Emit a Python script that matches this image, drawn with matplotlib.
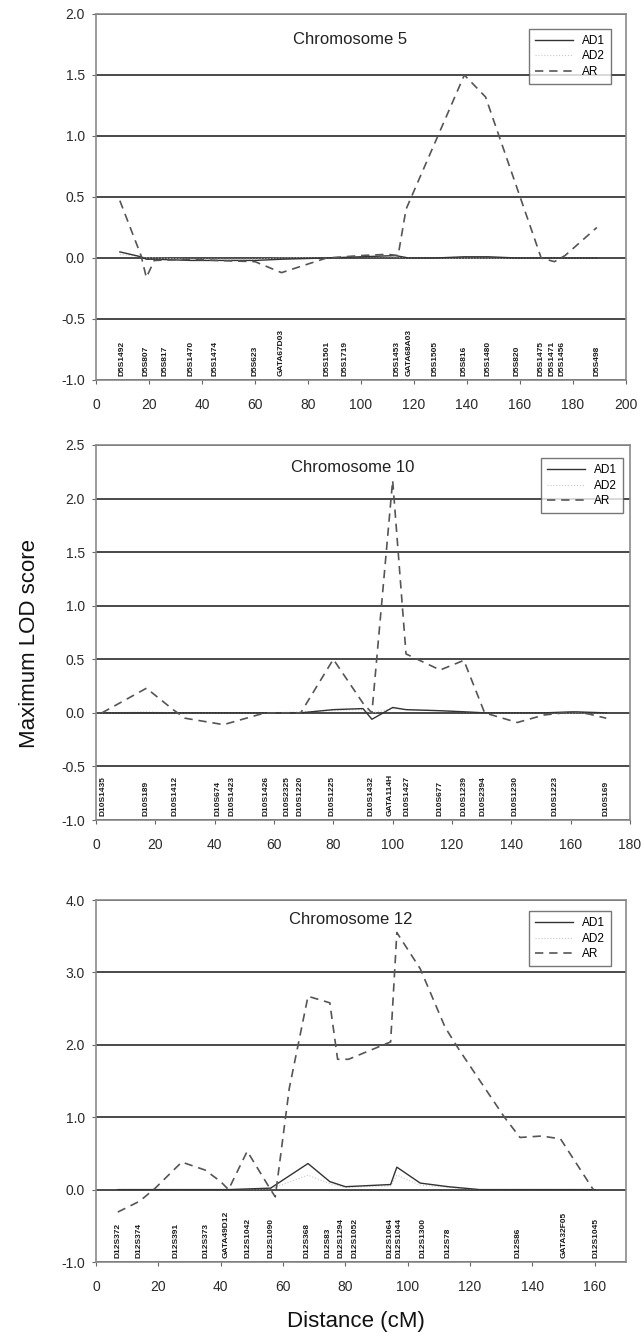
import numpy as np
import matplotlib
matplotlib.use('Agg')
import matplotlib.pyplot as plt
from matplotlib.lines import Line2D

plt.rcParams['font.family'] = ['Liberation Sans', 'DejaVu Sans']

# %%
# Chromosome 5
chr5_ad1_x = [9, 17, 19, 22, 36, 45, 60, 70, 87, 100, 113, 118, 128, 139, 148, 159, 168, 176, 189]
chr5_ad1_y = [0.05, 0.01, -0.01, -0.01, -0.02, -0.02, -0.02, -0.01, 0.0, 0.01, 0.02, 0.0, 0.0, 0.01, 0.01, 0.0, 0.0, 0.0, 0.0]
chr5_ad2_y = [0.03, 0.01, 0.0, 0.0, -0.01, -0.01, -0.01, 0.0, 0.0, 0.01, 0.01, 0.0, 0.0, 0.0, 0.0, 0.0, 0.0, 0.0, 0.0]
chr5_ar_x = [9, 17, 19, 22, 36, 45, 60, 70, 87, 100, 110, 114, 117, 139, 147, 168, 173, 177, 189]
chr5_ar_y = [0.47, 0.02, -0.16, -0.02, -0.01, -0.02, -0.03, -0.12, 0.0, 0.02, 0.03, 0.02, 0.4, 1.5, 1.32, 0.0, -0.03, 0.02, 0.25]
chr5_mk_x = [10, 19, 26, 36, 45, 60, 70, 87, 94, 113.5, 118, 128, 139, 148, 159, 168, 172, 176, 189]
chr5_mk = ['D5S1492', 'D5S807', 'D5S817', 'D5S1470', 'D5S1474', 'D5S623', 'GATA67D03',
           'D5S1501', 'D5S1719', 'D5S1453', 'GATA68A03', 'D5S1505', 'D5S816', 'D5S1480',
           'D5S820', 'D5S1475', 'D5S1471', 'D5S1456', 'D5S498']

# Chromosome 10
chr10_ad1_x = [2, 17, 26, 43, 57, 69, 80, 90, 93, 100, 104.5, 116, 124, 131, 142, 151, 161, 172]
chr10_ad1_y = [0.0, 0.0, 0.0, 0.0, 0.0, 0.0, 0.03, 0.04, -0.06, 0.05, 0.03, 0.02, 0.01, 0.0, 0.0, 0.0, 0.01, 0.0]
chr10_ad2_y = [0.0, 0.01, 0.0, 0.0, 0.0, 0.01, 0.02, 0.03, 0.0, 0.04, 0.03, 0.02, 0.01, 0.0, 0.0, 0.0, 0.0, 0.0]
chr10_ar_x = [2, 17, 26, 30, 43, 57, 69, 80, 90, 93, 100, 104.5, 116, 124, 131, 142, 151, 161, 166, 172]
chr10_ar_y = [0.0, 0.23, 0.03, -0.05, -0.11, 0.0, 0.0, 0.5, 0.09, 0.0, 2.17, 0.55, 0.4, 0.49, 0.0, -0.09, -0.02, 0.01, -0.01, -0.05]
chr10_mk_x = [2.4, 16.8, 26.5, 41, 45.7, 57.2, 64.4, 68.6, 79.4, 92.7, 99.3, 104.7, 116.1, 123.9, 130.6, 141.4, 154.6, 172]
chr10_mk = ['D10S1435', 'D10S189', 'D10S1412', 'D10S674', 'D10S1423', 'D10S1426', 'D10S2325',
            'D10S1220', 'D10S1225', 'D10S1432', 'GATA114H', 'D10S1427', 'D10S677', 'D10S1239',
            'D10S2394', 'D10S1230', 'D10S1223', 'D10S169']

# Chromosome 12
chr12_ad1_x = [7, 14, 27.5, 42.5, 56, 68, 75, 80, 94.5, 96.5, 104, 113, 123, 135, 150, 160]
chr12_ad1_y = [0.0, 0.0, 0.0, 0.0, 0.02, 0.36, 0.11, 0.04, 0.07, 0.31, 0.09, 0.04, 0.0, 0.0, 0.0, 0.0]
chr12_ad2_y = [0.0, 0.0, 0.0, 0.0, 0.01, 0.2, 0.08, 0.03, 0.05, 0.2, 0.06, 0.03, 0.0, 0.0, 0.0, 0.0]
chr12_ar_x = [7, 14, 19, 27.5, 35, 40, 42.5, 48.5, 56, 57.5, 62, 68, 75, 77.5, 81, 94.5, 96.5, 104, 112, 116.5, 131, 136, 143, 149, 159.5]
chr12_ar_y = [-0.31, -0.16, 0.02, 0.38, 0.27, 0.11, 0.0, 0.53, 0.0, -0.1, 1.4, 2.67, 2.58, 1.8, 1.8, 2.04, 3.55, 3.05, 2.24, 1.93, 1.0, 0.72, 0.74, 0.7, 0.0]
chr12_mk_x = [6.9, 13.8, 25.8, 35.4, 41.7, 48.6, 56, 67.7, 74.5, 78.6, 83.1, 94.3, 97.2, 104.8, 113, 135.2, 150.2, 160.5]
chr12_mk = ['D12S372', 'D12S374', 'D12S391', 'D12S373', 'GATA49D12', 'D12S1042', 'D12S1090',
            'D12S368', 'D12S83', 'D12S1294', 'D12S1052', 'D12S1064', 'D12S1044', 'D12S1300',
            'D12S78', 'D12S86', 'GATA32F05', 'D12S1045']

# %%
W, H = 644, 1339
fig = plt.figure(figsize=(W / 100, H / 100), dpi=100)

panels = [
    dict(title='Chromosome 5', box=(96, 14, 626, 380), xlim=(0, 200), xticks=np.arange(0, 201, 20),
         ylim=(-1, 2), yticks=np.arange(-1, 2.01, 0.5), title_y=0.93, leg=(0.983, 0.975),
         ad1x=chr5_ad1_x, ad1y=chr5_ad1_y, ad2y=chr5_ad2_y, arx=chr5_ar_x, ary=chr5_ar_y,
         mkx=chr5_mk_x, mk=chr5_mk),
    dict(title='Chromosome 10', box=(96, 445, 630, 820), xlim=(0, 180), xticks=np.arange(0, 181, 20),
         ylim=(-1, 2.5), yticks=np.arange(-1, 2.51, 0.5), title_y=0.94, leg=(0.998, 0.98),
         ad1x=chr10_ad1_x, ad1y=chr10_ad1_y, ad2y=chr10_ad2_y, arx=chr10_ar_x, ary=chr10_ar_y,
         mkx=chr10_mk_x, mk=chr10_mk),
    dict(title='Chromosome 12', box=(96, 900, 626, 1262), xlim=(0, 170), xticks=np.arange(0, 161, 20),
         ylim=(-1, 4), yticks=np.arange(-1, 4.01, 1.0), title_y=0.946, leg=(0.983, 0.985),
         ad1x=chr12_ad1_x, ad1y=chr12_ad1_y, ad2y=chr12_ad2_y, arx=chr12_ar_x, ary=chr12_ar_y,
         mkx=chr12_mk_x, mk=chr12_mk),
]

for p in panels:
    x0, y0, x1, y1 = p['box']
    ax = fig.add_axes([x0 / W, 1 - y1 / H, (x1 - x0) / W, (y1 - y0) / H])
    ax.set_xlim(*p['xlim'])
    ax.set_ylim(*p['ylim'])
    ax.set_xticks(p['xticks'])
    ax.set_yticks(p['yticks'])
    ax.set_yticklabels([f'{v:.1f}' for v in p['yticks']])
    for v in p['yticks']:
        ax.axhline(v, color='#3a3a3a', lw=1.3, zorder=1)
    for s in ax.spines.values():
        s.set_color('#8a8a8a')
        s.set_linewidth(1.2)
    ax.tick_params(axis='both', direction='out', length=3, width=0.8, color='#666666',
                   labelsize=10, labelcolor='#2a2a2a')
    ax.tick_params(axis='x', pad=10)
    ax.tick_params(axis='y', pad=5)

    ax.plot(p['ad1x'], p['ad1y'], color='#333333', lw=1.0, zorder=3)
    ax.plot(p['ad1x'], p['ad2y'], color='#c8c8c8', lw=0.8, ls=':', zorder=2)
    ax.plot(p['arx'], p['ary'], color='#555555', lw=1.2, ls=(0, (5, 3.5)), zorder=4)

    # marker names along the bottom band
    for mx, name in zip(p['mkx'], p['mk']):
        ax.text(mx, p['ylim'][0] + 0.01 * (p['ylim'][1] - p['ylim'][0]), name, rotation=90,
                ha='center', va='bottom', fontsize=6, fontweight='bold', color='#1a1a1a', zorder=5)

    ax.text(0.48, p['title_y'], p['title'], transform=ax.transAxes, ha='center', va='center',
            fontsize=12, color='#222222')

    handles = [Line2D([], [], color='#333333', lw=1.0),
               Line2D([], [], color='#c8c8c8', lw=0.8, ls=':'),
               Line2D([], [], color='#555555', lw=1.2, ls=(0, (5, 3.5)))]
    leg = ax.legend(handles, ['AD1', 'AD2', 'AR'], loc='upper right', bbox_to_anchor=p['leg'],
                    fontsize=8.5, frameon=True, fancybox=False, handlelength=3.2,
                    borderpad=0.5, labelspacing=0.3, handletextpad=0.8)
    leg.get_frame().set_edgecolor('#555555')
    leg.get_frame().set_linewidth(1.0)

fig.text(30 / W, 1 - 643 / H, 'Maximum LOD score', rotation=90, ha='center', va='center',
         fontsize=16, color='#111111')
fig.text(356 / W, 1 - 1322 / H, 'Distance (cM)', ha='center', va='center',
         fontsize=16, color='#111111')

fig.savefig('out.png', dpi=100, facecolor='white')
